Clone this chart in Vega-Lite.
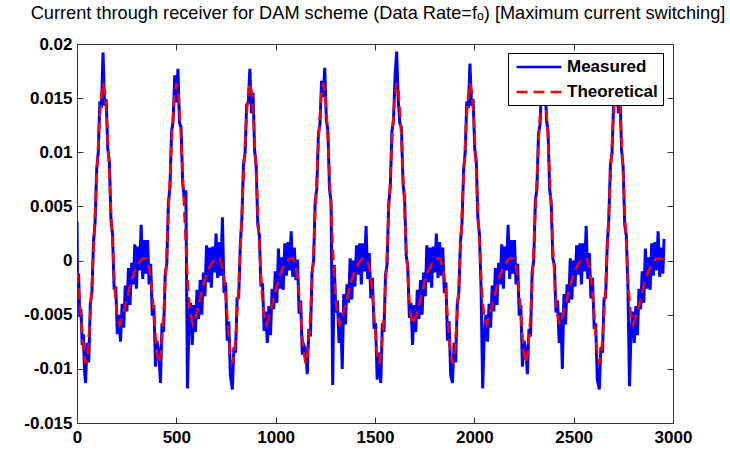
{
"$schema": "https://vega.github.io/schema/vega-lite/v6.json",
"width": 596, "height": 379,
"autosize": {"type": "none"},
"padding": {"left": 77, "top": 44, "right": 57, "bottom": 27},
"background": "white",
"title": {"text": "Current through receiver for DAM scheme (Data Rate=fₒ) [Maximum current switching]", "font": "Liberation Sans", "fontSize": 18.2, "fontWeight": "normal", "color": "black", "anchor": "middle", "offset": 12, "dx": 3},
"config": {
  "view": {"stroke": null},
  "axis": {"labelFont": "Liberation Sans", "labelFontSize": 17, "labelFontWeight": "bold", "labelColor": "black", "domainColor": "#333333", "tickColor": "#333333", "tickSize": -6, "grid": false, "labelFlush": false, "labelOverlap": false, "labelBound": false},
  "axisX": {"labelPadding": 12},
  "axisY": {"labelPadding": 11},
  "legend": {"orient": "none", "legendX": 431, "legendY": 9, "strokeColor": "black", "fillColor": "white", "padding": 5, "symbolType": "M-1,0H5", "symbolSize": 225, "symbolStrokeWidth": 2.5, "symbolOffset": 2, "labelOffset": 34, "labelFont": "Liberation Sans", "labelFontSize": 17, "labelFontWeight": "bold", "labelColor": "black", "rowPadding": 8, "cornerRadius": 0, "title": null}
},
"datasets": {
"m": [
{"x":0,"y":0.0036},{"x":3,"y":-0.003},{"x":8,"y":-0.0012},{"x":14,"y":-0.0052},{"x":20,"y":-0.0045},{"x":26,"y":-0.0078},{"x":32,"y":-0.0068},{"x":38,"y":-0.0102},
{"x":43,"y":-0.0113},{"x":51,"y":-0.0076},{"x":59,"y":-0.0094},{"x":67,"y":-0.004},{"x":75,"y":-0.003},{"x":83,"y":0.0017},{"x":91,"y":0.0035},{"x":99,"y":0.0084},{"x":107,"y":0.01},{"x":115,"y":0.0147},{"x":123,"y":0.0141},{"x":131,"y":0.0192},{"x":139,"y":0.0143},{"x":147,"y":0.0149},{"x":155,"y":0.0103},{"x":163,"y":0.0091},{"x":171,"y":0.0038},{"x":179,"y":0.0024},{"x":187,"y":-0.0027},{"x":195,"y":-0.0024},{"x":203,"y":-0.0068},{"x":211,"y":-0.005},{"x":219,"y":-0.0075},{"x":227,"y":-0.004},{"x":235,"y":-0.0062},{"x":243,"y":-0.0023},{"x":251,"y":-0.0047},{"x":259,"y":-0.0007},{"x":267,"y":-0.0041},{"x":275,"y":-0.0002},{"x":283,"y":-0.0022},{"x":291,"y":0.0015},{"x":299,"y":-0.0026},{"x":307,"y":0.0013},{"x":315,"y":-0.0009},{"x":323,"y":0.0033},{"x":331,"y":-0.0017},{"x":339,"y":0.0019},{"x":347,"y":-0.0012},{"x":355,"y":0.0019},{"x":363,"y":-0.0022},{"x":371,"y":-0.0003},{"x":379,"y":-0.0051},{"x":387,"y":-0.0041},{"x":395,"y":-0.0098},{"x":403,"y":-0.0074},
{"x":412,"y":-0.0085},{"x":420,"y":-0.0113},{"x":428,"y":-0.0058},{"x":436,"y":-0.0066},{"x":444,"y":-0.0013},{"x":452,"y":-0.0003},{"x":460,"y":0.0053},{"x":468,"y":0.0068},{"x":476,"y":0.0119},{"x":484,"y":0.0129},{"x":492,"y":0.0171},{"x":500,"y":0.0146},{"x":508,"y":0.0177},{"x":516,"y":0.0127},{"x":524,"y":0.0123},{"x":532,"y":0.0071},{"x":540,"y":0.0058},{"x":548,"y":0.0065},{"x":556,"y":-0.0118},{"x":564,"y":-0.0053},{"x":572,"y":-0.0039},{"x":580,"y":-0.0078},{"x":588,"y":-0.0041},{"x":596,"y":-0.0066},{"x":604,"y":-0.0027},{"x":612,"y":-0.0054},{"x":620,"y":-0.0018},{"x":628,"y":-0.005},{"x":636,"y":-0.0011},{"x":644,"y":-0.0033},{"x":652,"y":0.0014},{"x":660,"y":-0.002},{"x":668,"y":0.0012},{"x":676,"y":-0.0025},{"x":684,"y":0.0013},{"x":692,"y":-0.0011},{"x":700,"y":0.0025},{"x":708,"y":-0.0016},{"x":716,"y":0.0017},{"x":724,"y":-0.0014},{"x":732,"y":0.004},{"x":740,"y":-0.003},{"x":748,"y":-0.002},{"x":756,"y":-0.0074},{"x":764,"y":-0.0056},{"x":772,"y":-0.0106},
{"x":782,"y":-0.0119},{"x":790,"y":-0.008},{"x":798,"y":-0.0085},{"x":806,"y":-0.0035},{"x":814,"y":-0.0034},{"x":822,"y":0.0015},{"x":830,"y":0.0039},{"x":838,"y":0.0089},{"x":846,"y":0.0099},{"x":854,"y":0.0144},{"x":862,"y":0.0146},{"x":870,"y":0.0177},{"x":878,"y":0.0136},{"x":886,"y":0.0155},{"x":894,"y":0.0102},{"x":902,"y":0.0087},{"x":910,"y":0.0033},{"x":918,"y":0.0023},{"x":926,"y":-0.0024},{"x":934,"y":-0.0021},{"x":942,"y":-0.0065},{"x":950,"y":-0.0047},{"x":958,"y":-0.0076},{"x":966,"y":-0.0042},{"x":974,"y":-0.0069},{"x":982,"y":-0.0026},{"x":990,"y":-0.0045},{"x":998,"y":-0.001},{"x":1006,"y":-0.0039},{"x":1014,"y":0.0011},{"x":1022,"y":-0.0026},{"x":1030,"y":0.0003},{"x":1038,"y":-0.0027},{"x":1046,"y":0.0016},{"x":1054,"y":-0.0014},{"x":1062,"y":0.0017},{"x":1070,"y":-0.0009},{"x":1078,"y":0.0027},{"x":1086,"y":-0.0015},{"x":1094,"y":0.0012},{"x":1102,"y":-0.0018},{"x":1110,"y":0.0001},{"x":1118,"y":-0.0049},{"x":1126,"y":-0.0037},{"x":1134,"y":-0.0087},{"x":1142,"y":-0.0078},
{"x":1151,"y":-0.0082},{"x":1159,"y":-0.0105},{"x":1167,"y":-0.0063},{"x":1175,"y":-0.007},{"x":1183,"y":-0.0011},{"x":1191,"y":0},{"x":1199,"y":0.0055},{"x":1207,"y":0.0066},{"x":1215,"y":0.0117},{"x":1223,"y":0.0126},{"x":1231,"y":0.0166},{"x":1239,"y":0.0151},{"x":1247,"y":0.0178},{"x":1255,"y":0.013},{"x":1263,"y":0.012},{"x":1271,"y":0.0066},{"x":1279,"y":0.0054},{"x":1287,"y":-0.0115},{"x":1295,"y":-0.0004},{"x":1303,"y":-0.0048},{"x":1311,"y":-0.0037},{"x":1319,"y":-0.0076},{"x":1327,"y":-0.0048},{"x":1335,"y":-0.01},{"x":1343,"y":-0.0031},{"x":1351,"y":-0.0059},{"x":1359,"y":-0.0022},{"x":1367,"y":-0.0039},{"x":1375,"y":0.0002},{"x":1383,"y":-0.0036},{"x":1391,"y":0},{"x":1399,"y":-0.0024},{"x":1407,"y":0.0014},{"x":1415,"y":-0.0013},{"x":1423,"y":0.0016},{"x":1431,"y":-0.0022},{"x":1439,"y":0.0016},{"x":1447,"y":-0.001},{"x":1455,"y":0.0032},{"x":1463,"y":-0.0017},{"x":1471,"y":0.0007},{"x":1479,"y":-0.0035},{"x":1487,"y":-0.0016},{"x":1495,"y":-0.0061},{"x":1503,"y":-0.006},{"x":1511,"y":-0.011},
{"x":1521,"y":-0.0085},{"x":1529,"y":-0.0113},{"x":1537,"y":-0.0058},{"x":1545,"y":-0.0066},{"x":1553,"y":-0.0013},{"x":1561,"y":-0.0003},{"x":1569,"y":0.0053},{"x":1577,"y":0.0068},{"x":1585,"y":0.0119},{"x":1593,"y":0.0129},{"x":1601,"y":0.0171},{"x":1609,"y":0.0193},{"x":1617,"y":0.0148},{"x":1625,"y":0.0127},{"x":1633,"y":0.0123},{"x":1641,"y":0.0071},{"x":1649,"y":0.0058},{"x":1657,"y":0.0005},{"x":1665,"y":-0.0006},{"x":1673,"y":-0.0053},{"x":1681,"y":-0.0039},{"x":1689,"y":-0.0078},{"x":1697,"y":-0.0041},{"x":1705,"y":-0.0066},{"x":1713,"y":-0.0027},{"x":1721,"y":-0.0054},{"x":1729,"y":-0.0018},{"x":1737,"y":-0.005},{"x":1745,"y":-0.0011},{"x":1753,"y":-0.0033},{"x":1761,"y":0.0014},{"x":1769,"y":-0.002},{"x":1777,"y":0.0012},{"x":1785,"y":-0.0025},{"x":1793,"y":0.0013},{"x":1801,"y":-0.0011},{"x":1809,"y":0.0025},{"x":1817,"y":-0.0016},{"x":1825,"y":0.0017},{"x":1833,"y":-0.0014},{"x":1841,"y":0.0012},{"x":1849,"y":-0.003},{"x":1857,"y":-0.002},{"x":1865,"y":-0.0074},{"x":1873,"y":-0.0056},{"x":1881,"y":-0.0106},
{"x":1890,"y":-0.0113},{"x":1898,"y":-0.0076},{"x":1906,"y":-0.0094},{"x":1914,"y":-0.004},{"x":1922,"y":-0.003},{"x":1930,"y":0.0017},{"x":1938,"y":0.0035},{"x":1946,"y":0.0084},{"x":1954,"y":0.01},{"x":1962,"y":0.0147},{"x":1970,"y":0.0141},{"x":1978,"y":0.0182},{"x":1986,"y":0.0143},{"x":1994,"y":0.0149},{"x":2002,"y":0.0103},{"x":2010,"y":0.0091},{"x":2018,"y":0.0038},{"x":2026,"y":0.0024},{"x":2034,"y":-0.0027},{"x":2042,"y":-0.0118},{"x":2050,"y":-0.0068},{"x":2058,"y":-0.005},{"x":2066,"y":-0.0075},{"x":2074,"y":-0.004},{"x":2082,"y":-0.0062},{"x":2090,"y":-0.0023},{"x":2098,"y":-0.0047},{"x":2106,"y":-0.0007},{"x":2114,"y":-0.0041},{"x":2122,"y":-0.0002},{"x":2130,"y":-0.0022},{"x":2138,"y":0.0015},{"x":2146,"y":-0.0026},{"x":2154,"y":0.0013},{"x":2162,"y":-0.0009},{"x":2170,"y":0.0033},{"x":2178,"y":-0.0017},{"x":2186,"y":0.0019},{"x":2194,"y":-0.0012},{"x":2202,"y":0.0019},{"x":2210,"y":-0.0022},{"x":2218,"y":-0.0003},{"x":2226,"y":-0.0051},{"x":2234,"y":-0.0041},{"x":2242,"y":-0.0098},{"x":2250,"y":-0.0074},
{"x":2259,"y":-0.0082},{"x":2267,"y":-0.0105},{"x":2275,"y":-0.0063},{"x":2283,"y":-0.007},{"x":2291,"y":-0.0011},{"x":2299,"y":0},{"x":2307,"y":0.0055},{"x":2315,"y":0.0066},{"x":2323,"y":0.0117},{"x":2331,"y":0.0126},{"x":2339,"y":0.0166},{"x":2347,"y":0.0151},{"x":2355,"y":0.0178},{"x":2363,"y":0.013},{"x":2371,"y":0.012},{"x":2379,"y":0.0066},{"x":2387,"y":0.0054},{"x":2395,"y":0.0002},{"x":2403,"y":-0.0004},{"x":2411,"y":-0.0048},{"x":2419,"y":-0.0037},{"x":2427,"y":-0.0076},{"x":2435,"y":-0.0048},{"x":2443,"y":-0.01},{"x":2451,"y":-0.0031},{"x":2459,"y":-0.0059},{"x":2467,"y":-0.0022},{"x":2475,"y":-0.0039},{"x":2483,"y":0.0002},{"x":2491,"y":-0.0036},{"x":2499,"y":0},{"x":2507,"y":-0.0024},{"x":2515,"y":0.0014},{"x":2523,"y":-0.0013},{"x":2531,"y":0.0016},{"x":2539,"y":-0.0022},{"x":2547,"y":0.0016},{"x":2555,"y":-0.001},{"x":2563,"y":0.0032},{"x":2571,"y":-0.0017},{"x":2579,"y":0.0007},{"x":2587,"y":-0.0035},{"x":2595,"y":-0.0016},{"x":2603,"y":-0.0061},{"x":2611,"y":-0.006},{"x":2619,"y":-0.011},
{"x":2629,"y":-0.0119},{"x":2637,"y":-0.008},{"x":2645,"y":-0.0085},{"x":2653,"y":-0.0035},{"x":2661,"y":-0.0034},{"x":2669,"y":0.0015},{"x":2677,"y":0.0039},{"x":2685,"y":0.0089},{"x":2693,"y":0.0099},{"x":2701,"y":0.0144},{"x":2709,"y":0.0146},{"x":2717,"y":0.0177},{"x":2725,"y":0.0136},{"x":2733,"y":0.0155},{"x":2741,"y":0.0102},{"x":2749,"y":0.0087},{"x":2757,"y":0.0033},{"x":2765,"y":0.0023},{"x":2773,"y":-0.0024},{"x":2781,"y":-0.0116},{"x":2789,"y":-0.0065},{"x":2797,"y":-0.0047},{"x":2805,"y":-0.0076},{"x":2813,"y":-0.0042},{"x":2821,"y":-0.0069},{"x":2829,"y":-0.0026},{"x":2837,"y":-0.0045},{"x":2845,"y":-0.001},{"x":2853,"y":-0.0039},{"x":2861,"y":0.0011},{"x":2869,"y":-0.0026},{"x":2877,"y":0.0003},{"x":2885,"y":-0.0027},{"x":2893,"y":0.0016},{"x":2901,"y":-0.0014},{"x":2909,"y":0.0017},{"x":2917,"y":-0.0009},{"x":2925,"y":0.0027},{"x":2933,"y":-0.0015},{"x":2941,"y":0.0012},{"x":2949,"y":-0.0012},{"x":2955,"y":0.002}
],
"t": [
{"x":0,"y":-0.001},{"x":10,"y":-0.0029},{"x":20,"y":-0.0053},{"x":30,"y":-0.0078},
{"x":43,"y":-0.0095},{"x":53,"y":-0.0086},{"x":65,"y":-0.0056},{"x":79,"y":-0.0007},{"x":91,"y":0.0045},{"x":101,"y":0.0085},{"x":111,"y":0.0123},{"x":121,"y":0.0151},{"x":131,"y":0.0164},{"x":141,"y":0.0155},{"x":151,"y":0.0127},{"x":161,"y":0.0088},{"x":171,"y":0.0045},{"x":181,"y":0.0007},{"x":191,"y":-0.0028},{"x":201,"y":-0.0049},{"x":214,"y":-0.0059},{"x":231,"y":-0.005},{"x":251,"y":-0.0035},{"x":271,"y":-0.002},{"x":291,"y":-0.0009},{"x":311,"y":-0.0002},{"x":331,"y":0.0002},{"x":349,"y":0.0002},{"x":361,"y":-0.0005},{"x":371,"y":-0.0015},{"x":381,"y":-0.0035},{"x":391,"y":-0.006},{"x":401,"y":-0.0084},
{"x":412,"y":-0.0095},{"x":422,"y":-0.0086},{"x":434,"y":-0.0056},{"x":448,"y":-0.0007},{"x":460,"y":0.0045},{"x":470,"y":0.0085},{"x":480,"y":0.0123},{"x":490,"y":0.0151},{"x":500,"y":0.0164},{"x":510,"y":0.0155},{"x":520,"y":0.0127},{"x":530,"y":0.0088},{"x":540,"y":0.0045},{"x":550,"y":0.0007},{"x":560,"y":-0.0028},{"x":570,"y":-0.0049},{"x":583,"y":-0.0059},{"x":600,"y":-0.005},{"x":620,"y":-0.0035},{"x":640,"y":-0.002},{"x":660,"y":-0.0009},{"x":680,"y":-0.0002},{"x":700,"y":0.0002},{"x":718,"y":0.0002},{"x":730,"y":-0.0005},{"x":740,"y":-0.0015},{"x":750,"y":-0.0035},{"x":760,"y":-0.006},{"x":770,"y":-0.0084},
{"x":782,"y":-0.0095},{"x":792,"y":-0.0086},{"x":804,"y":-0.0056},{"x":818,"y":-0.0007},{"x":830,"y":0.0045},{"x":840,"y":0.0085},{"x":850,"y":0.0123},{"x":860,"y":0.0151},{"x":870,"y":0.0164},{"x":880,"y":0.0155},{"x":890,"y":0.0127},{"x":900,"y":0.0088},{"x":910,"y":0.0045},{"x":920,"y":0.0007},{"x":930,"y":-0.0028},{"x":940,"y":-0.0049},{"x":953,"y":-0.0059},{"x":970,"y":-0.005},{"x":990,"y":-0.0035},{"x":1010,"y":-0.002},{"x":1030,"y":-0.0009},{"x":1050,"y":-0.0002},{"x":1070,"y":0.0002},{"x":1088,"y":0.0002},{"x":1100,"y":-0.0005},{"x":1110,"y":-0.0015},{"x":1120,"y":-0.0035},{"x":1130,"y":-0.006},{"x":1140,"y":-0.0084},
{"x":1151,"y":-0.0095},{"x":1161,"y":-0.0086},{"x":1173,"y":-0.0056},{"x":1187,"y":-0.0007},{"x":1199,"y":0.0045},{"x":1209,"y":0.0085},{"x":1219,"y":0.0123},{"x":1229,"y":0.0151},{"x":1239,"y":0.0164},{"x":1249,"y":0.0155},{"x":1259,"y":0.0127},{"x":1269,"y":0.0088},{"x":1279,"y":0.0045},{"x":1289,"y":0.0007},{"x":1299,"y":-0.0028},{"x":1309,"y":-0.0049},{"x":1322,"y":-0.0059},{"x":1339,"y":-0.005},{"x":1359,"y":-0.0035},{"x":1379,"y":-0.002},{"x":1399,"y":-0.0009},{"x":1419,"y":-0.0002},{"x":1439,"y":0.0002},{"x":1457,"y":0.0002},{"x":1469,"y":-0.0005},{"x":1479,"y":-0.0015},{"x":1489,"y":-0.0035},{"x":1499,"y":-0.006},{"x":1509,"y":-0.0084},
{"x":1521,"y":-0.0095},{"x":1531,"y":-0.0086},{"x":1543,"y":-0.0056},{"x":1557,"y":-0.0007},{"x":1569,"y":0.0045},{"x":1579,"y":0.0085},{"x":1589,"y":0.0123},{"x":1599,"y":0.0151},{"x":1609,"y":0.0164},{"x":1619,"y":0.0155},{"x":1629,"y":0.0127},{"x":1639,"y":0.0088},{"x":1649,"y":0.0045},{"x":1659,"y":0.0007},{"x":1669,"y":-0.0028},{"x":1679,"y":-0.0049},{"x":1692,"y":-0.0059},{"x":1709,"y":-0.005},{"x":1729,"y":-0.0035},{"x":1749,"y":-0.002},{"x":1769,"y":-0.0009},{"x":1789,"y":-0.0002},{"x":1809,"y":0.0002},{"x":1827,"y":0.0002},{"x":1839,"y":-0.0005},{"x":1849,"y":-0.0015},{"x":1859,"y":-0.0035},{"x":1869,"y":-0.006},{"x":1879,"y":-0.0084},
{"x":1890,"y":-0.0095},{"x":1900,"y":-0.0086},{"x":1912,"y":-0.0056},{"x":1926,"y":-0.0007},{"x":1938,"y":0.0045},{"x":1948,"y":0.0085},{"x":1958,"y":0.0123},{"x":1968,"y":0.0151},{"x":1978,"y":0.0164},{"x":1988,"y":0.0155},{"x":1998,"y":0.0127},{"x":2008,"y":0.0088},{"x":2018,"y":0.0045},{"x":2028,"y":0.0007},{"x":2038,"y":-0.0028},{"x":2048,"y":-0.0049},{"x":2061,"y":-0.0059},{"x":2078,"y":-0.005},{"x":2098,"y":-0.0035},{"x":2118,"y":-0.002},{"x":2138,"y":-0.0009},{"x":2158,"y":-0.0002},{"x":2178,"y":0.0002},{"x":2196,"y":0.0002},{"x":2208,"y":-0.0005},{"x":2218,"y":-0.0015},{"x":2228,"y":-0.0035},{"x":2238,"y":-0.006},{"x":2248,"y":-0.0084},
{"x":2259,"y":-0.0095},{"x":2269,"y":-0.0086},{"x":2281,"y":-0.0056},{"x":2295,"y":-0.0007},{"x":2307,"y":0.0045},{"x":2317,"y":0.0085},{"x":2327,"y":0.0123},{"x":2337,"y":0.0151},{"x":2347,"y":0.0164},{"x":2357,"y":0.0155},{"x":2367,"y":0.0127},{"x":2377,"y":0.0088},{"x":2387,"y":0.0045},{"x":2397,"y":0.0007},{"x":2407,"y":-0.0028},{"x":2417,"y":-0.0049},{"x":2430,"y":-0.0059},{"x":2447,"y":-0.005},{"x":2467,"y":-0.0035},{"x":2487,"y":-0.002},{"x":2507,"y":-0.0009},{"x":2527,"y":-0.0002},{"x":2547,"y":0.0002},{"x":2565,"y":0.0002},{"x":2577,"y":-0.0005},{"x":2587,"y":-0.0015},{"x":2597,"y":-0.0035},{"x":2607,"y":-0.006},{"x":2617,"y":-0.0084},
{"x":2629,"y":-0.0095},{"x":2639,"y":-0.0086},{"x":2651,"y":-0.0056},{"x":2665,"y":-0.0007},{"x":2677,"y":0.0045},{"x":2687,"y":0.0085},{"x":2697,"y":0.0123},{"x":2707,"y":0.0151},{"x":2717,"y":0.0164},{"x":2727,"y":0.0155},{"x":2737,"y":0.0127},{"x":2747,"y":0.0088},{"x":2757,"y":0.0045},{"x":2767,"y":0.0007},{"x":2777,"y":-0.0028},{"x":2787,"y":-0.0049},{"x":2800,"y":-0.0059},{"x":2817,"y":-0.005},{"x":2837,"y":-0.0035},{"x":2857,"y":-0.002},{"x":2877,"y":-0.0009},{"x":2897,"y":-0.0002},{"x":2917,"y":0.0002},{"x":2935,"y":0.0002},{"x":2955,"y":0.0001}
]
},
"layer": [
{
  "data": {"name": "m"},
  "mark": {"type": "line", "strokeWidth": 3, "clip": true},
  "encoding": {
    "x": {"field": "x", "type": "quantitative", "scale": {"domain": [0, 3000], "nice": false, "zero": false}, "axis": {"orient": "bottom", "title": null, "values": [0, 500, 1000, 1500, 2000, 2500, 3000], "format": "d"}},
    "y": {"field": "y", "type": "quantitative", "scale": {"domain": [-0.015, 0.02], "nice": false, "zero": false}, "axis": {"orient": "left", "title": null, "values": [-0.015, -0.01, -0.005, 0, 0.005, 0.01, 0.015, 0.02], "labelExpr": "datum.value < 0 ? '-' + format(-datum.value, '~g') : format(datum.value, '~g')"}},
    "color": {"datum": "Measured", "type": "nominal", "scale": {"domain": ["Measured", "Theoretical"], "range": ["#0000ff", "#ff0000"]}, "legend": {"title": null}},
    "strokeDash": {"datum": "Measured", "type": "nominal", "scale": {"domain": ["Measured", "Theoretical"], "range": [[1, 0], [11, 6]]}, "legend": {"title": null}}
  }
},
{
  "data": {"name": "t"},
  "mark": {"type": "line", "strokeWidth": 2.5, "clip": true},
  "encoding": {
    "x": {"field": "x", "type": "quantitative", "axis": {"orient": "top", "title": null, "labels": false, "values": [0, 500, 1000, 1500, 2000, 2500, 3000]}},
    "y": {"field": "y", "type": "quantitative", "axis": {"orient": "right", "title": null, "labels": false, "values": [-0.015, -0.01, -0.005, 0, 0.005, 0.01, 0.015, 0.02]}},
    "color": {"datum": "Theoretical", "type": "nominal", "legend": {"title": null}},
    "strokeDash": {"datum": "Theoretical", "type": "nominal", "legend": {"title": null}}
  }
}
],
"resolve": {"axis": {"x": "independent", "y": "independent"}}
}
